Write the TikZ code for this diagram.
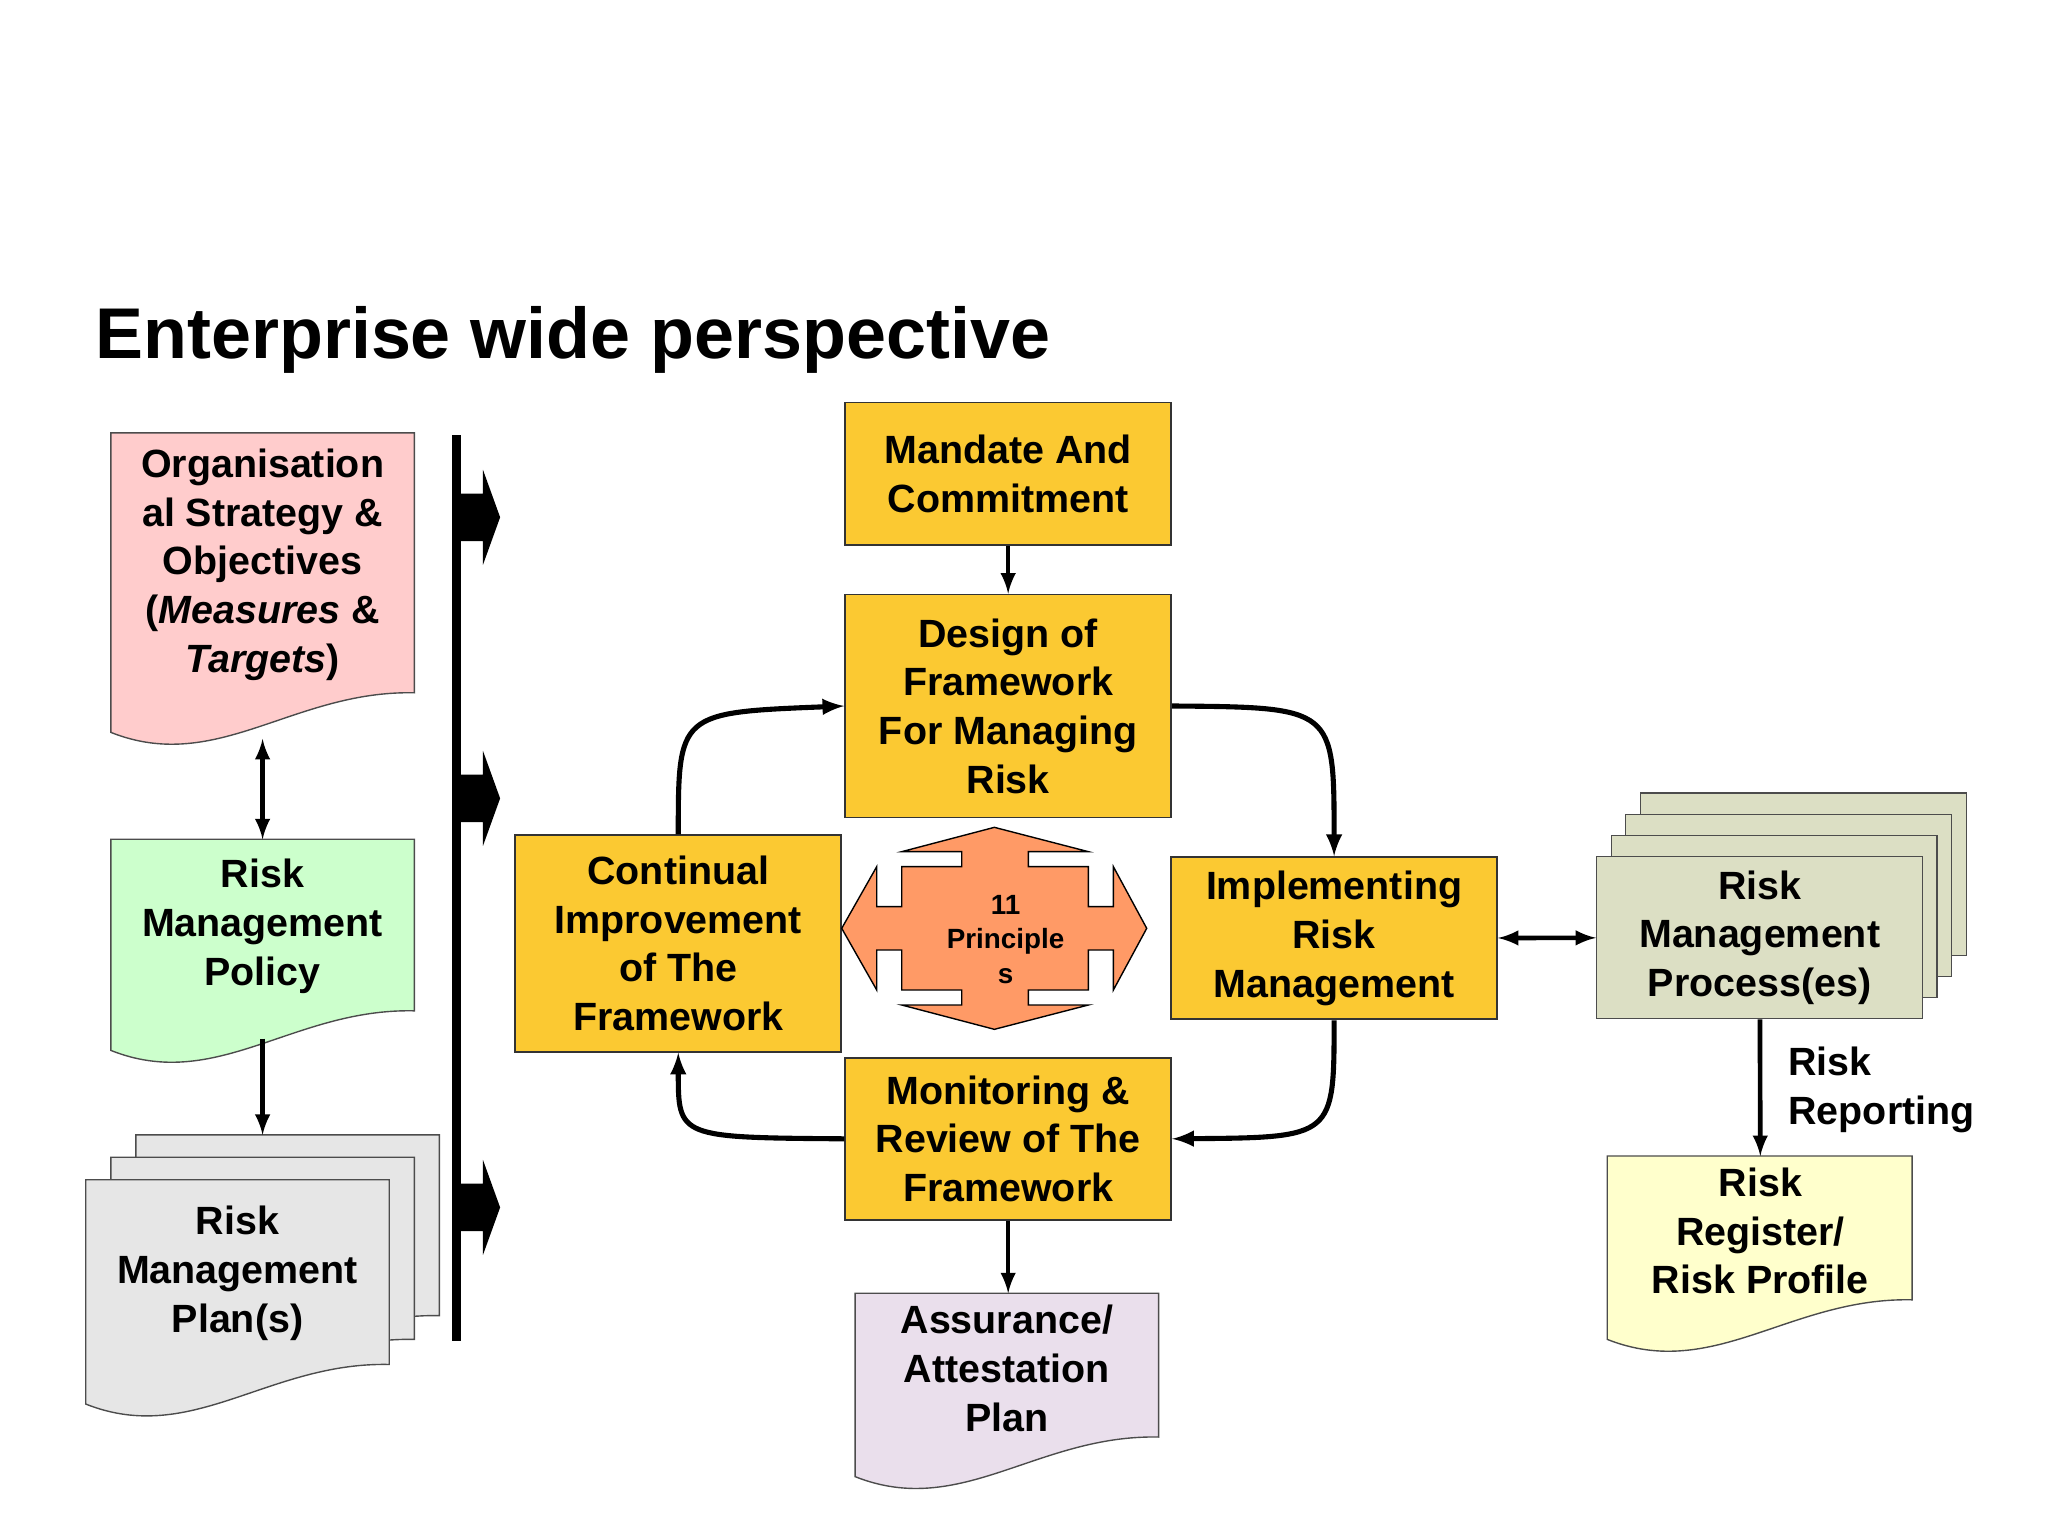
\documentclass[tikz,border=0pt]{standalone}
\usepackage{fontspec}
\setmainfont{Liberation Sans}
\begin{document}
\begin{tikzpicture}[x=0.02cm,y=-0.02cm,
  txt/.style={font=\fontsize{17}{21}\selectfont\bfseries,align=center,inner sep=0},
  box/.style={draw=black!80,fill=boxo,line width=0.8pt,minimum width=4.94cm,txt},
  doc/.style={draw=black!70,line width=0.6pt},
  arr/.style={-latex,line width=2pt},
  carr/.style={-latex,line width=2.2pt}]
\definecolor{boxo}{HTML}{FBC932}
\definecolor{pinkd}{HTML}{FFCCCC}
\definecolor{greend}{HTML}{CCFFCC}
\definecolor{grayd}{HTML}{E6E6E6}
\definecolor{lavd}{HTML}{EADFEC}
\definecolor{oliv}{HTML}{DCDFC4}
\definecolor{yeld}{HTML}{FFFFCC}
\definecolor{salm}{HTML}{FF9A66}
\useasboundingbox (0,0) rectangle (1552,1164);
% document shape: x0 y0 x1 yR
\newcommand\docsh[5]{\path[doc,fill=#5] (#1,#2) -- (#3,#2) -- (#3,#4)
  .. controls ({#1+0.6*(#3-#1)},{#4-2}) and ({#1+0.35*(#3-#1)},{#4+62}) .. (#1,{#4+30}) -- cycle;}
\node[anchor=base west,font=\fontsize{31}{36}\selectfont\bfseries,inner sep=0] (title) at (72,272) {Enterprise wide perspective};
% left docs
\docsh{84}{328}{314}{525}{pinkd}
\node[txt] (strat) at (199,428) {Organisation\\al Strategy \&\\Objectives\\(\textit{Measures} \&\\\textit{Targets})};
\coordinate (stratb) at (199,560);
\docsh{84}{636}{314}{766}{greend}
\node[txt] (pol) at (199,702) {Risk\\Management\\Policy};
\coordinate (polt) at (199,636);
\coordinate (polb) at (199,787);
\docsh{103}{860}{333}{997}{grayd}
\docsh{84}{877}{314}{1015}{grayd}
\docsh{65}{894}{295}{1034}{grayd}
\node[txt] (plan) at (180,965) {Risk\\Management\\Plan(s)};
\coordinate (plant) at (199,860);
\draw[latex-latex,line width=2pt] (stratb) -- (polt);
\draw[arr] (polb) -- (plant);
% bar and block arrows
\draw[line width=4pt] (346,330) -- (346,1016);
\foreach \yy in {392,605,915}{
  \fill (345,\yy-18) -- (366,\yy-18) -- (366,\yy-36) -- (379,\yy) -- (366,\yy+36) -- (366,\yy+18) -- (345,\yy+18) -- cycle;}
% center boxes
\node[box,minimum height=2.16cm] (mand) at (764,359) {Mandate And\\Commitment};
\node[box,minimum height=3.38cm] (des) at (764,535) {Design of\\Framework\\For Managing\\Risk};
\node[box,minimum height=3.28cm] (cont) at (514,715) {Continual\\Improvement\\of The\\Framework};
\node[box,minimum height=2.46cm] (impl) at (1011,711) {Implementing\\Risk\\Management};
\node[box,minimum height=2.46cm] (mon) at (764,863) {Monitoring \&\\Review of The\\Framework};
\docsh{648}{980}{878}{1089}{lavd}
\node[txt] (ass) at (763,1037) {Assurance/\\Attestation\\Plan};
\coordinate (asst) at (764,980);
% principles
\begin{scope}[shift={(636.6,621.4)},scale=0.2526]
\path[draw=black,fill=salm,line width=0.6pt] (463,22) -- (745,95) -- (565,95) -- (565,140) -- (745,140) -- (745,260) -- (820,260) -- (820,140) -- (920,325) -- (820,510) -- (820,390) -- (745,390) -- (745,510) -- (565,510) -- (565,555) -- (745,555) -- (463,628) -- (185,555) -- (365,555) -- (365,510) -- (185,510) -- (185,390) -- (110,390) -- (110,510) -- (5,325) -- (110,140) -- (110,260) -- (185,260) -- (185,140) -- (365,140) -- (365,95) -- (185,95) -- cycle;
\end{scope}
\node[font=\fontsize{12}{15}\selectfont\bfseries,align=center,inner sep=0] (princ) at (762,712) {11\\Principle\\s};
% right side
\foreach \dx/\dy in {33/-48,22/-32,11/-16}{
  \path[draw=black!70,fill=oliv,line width=0.6pt] (1210+\dx,649+\dy) rectangle (1457+\dx,772+\dy);}
\node[draw=black!70,fill=oliv,line width=0.6pt,minimum width=4.94cm,minimum height=2.46cm,txt] (proc) at (1333.5,710.5) {Risk\\Management\\Process(es)};
\docsh{1218}{876}{1449}{985}{yeld}
\node[txt] (reg) at (1334,933) {Risk\\Register/\\Risk Profile};
\coordinate (regt) at (1334,876);
\node[txt,align=left,anchor=north west] (rep) at (1355,793) {Risk\\Reporting};
% connectors
\draw[arr] (mand) -- (des);
\draw[arr] (mon) -- (asst);
\draw[latex-latex,line width=2pt] (impl) -- (proc);
\draw[arr] (proc) -- (regt);
\draw[carr] (cont.north) .. controls (514,540) .. (des.west);
\draw[carr] (des.east) .. controls (1011,536) .. (impl.north);
\draw[carr] (impl.south) .. controls (1011,862) .. (mon.east);
\draw[carr] (mon.west) .. controls (514,862) .. (cont.south);
\end{tikzpicture}
\end{document}
